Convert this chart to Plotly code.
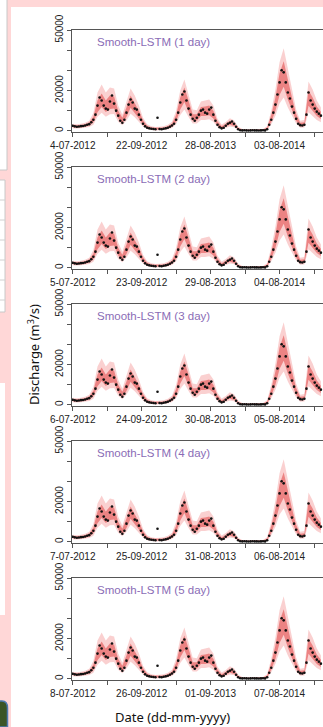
import plotly.graph_objects as go

# ---------------- data ----------------
obs_idx = list(range(0, 361, 3))
obs_val = [2500, 2200, 2000, 2100, 2300, 2400, 2600, 3000, 3300, 4200,
           5500, 8000, 12500, 16500, 15000, 12500, 11000, 10500, 14500, 17500,
           13500, 10000, 7500, 5000, 4000, 5500, 9000, 13000, 15500, 14000,
           11000, 10500, 8000, 5500, 3500, 2200, 1500, 1200, 1000, 900,
           800, 6500, 900, 800, 1000, 1200, 1500, 2000, 2600, 3500,
           5500, 9000, 14000, 18000, 19500, 15000, 11000, 8000, 6000, 5000,
           6500, 8000, 10000, 10500, 9000, 8500, 10500, 11500, 8000, 5000,
           3000, 1800, 1200, 1500, 2500, 3500, 4000, 4600, 3500, 2000,
           800, 300, 200, 250, 200, 150, 200, 250, 200, 200,
           150, 200, 250, 200, 800, 3000, 5500, 9000, 13000, 18000,
           24000, 30000, 29000, 24000, 19000, 16000, 12000, 9000, 6000, 3500,
           2800, 2600, 3000, 8000, 19000, 15000, 13000, 11000, 9500, 8500,
           7500]

band_idx = list(range(0, 361, 6))
hi50 = [2900, 2700, 2900, 3300, 4100, 7000, 15000, 18500, 15000, 17500,
        17000, 10000, 6500, 11500, 17500, 14000, 10000, 5200, 2500, 1600,
        1400, 1500, 1600, 2200, 3500, 7800, 16500, 21500, 15000, 8200,
        8200, 11800, 12000, 12500, 10000, 4600, 2300, 3400, 5000, 4100,
        1400, 600, 500, 500, 500, 500, 600, 1600, 7800, 16500,
        28500, 34500, 25000, 16500, 8300, 4000, 4200, 20000, 16500, 12000,
        9500]
lo50 = [1800, 1600, 1800, 2000, 2600, 4200, 9200, 11800, 9300, 10800,
        11000, 6100, 3800, 6900, 11400, 9000, 6100, 3000, 1300, 800,
        600, 700, 800, 1200, 2000, 4500, 10500, 14300, 9300, 5000,
        5000, 7300, 7300, 7700, 6100, 2600, 1100, 1900, 3000, 2400,
        600, 100, 0, 0, 0, 0, 100, 600, 4500, 9900,
        17800, 21800, 15500, 10000, 5000, 2200, 2400, 12400, 10000, 7300,
        5800]
hi95 = [3500, 3300, 3500, 4000, 5000, 8800, 19000, 23000, 19000, 21500,
        21000, 12500, 8000, 14000, 21000, 17500, 12500, 6500, 3200, 2200,
        1900, 2000, 2200, 3000, 4500, 10000, 20000, 25500, 18500, 10500,
        10200, 14500, 15000, 15500, 12500, 6000, 3100, 4300, 6200, 5200,
        2000, 900, 800, 800, 800, 800, 900, 2300, 10000, 20500,
        34000, 41000, 30500, 20500, 10500, 5000, 5300, 24500, 20500, 15000,
        11500]
lo95 = [1300, 1100, 1300, 1500, 1900, 3000, 7000, 9000, 7000, 8200,
        8300, 4500, 2800, 5100, 8500, 6700, 4500, 2100, 800, 400,
        200, 300, 400, 700, 1400, 3300, 7800, 10500, 6900, 3600,
        3600, 5400, 5400, 5700, 4500, 1800, 600, 1300, 2100, 1700,
        300, 0, 0, 0, 0, 0, 0, 300, 3300, 7400,
        13500, 16500, 11500, 7400, 3600, 1500, 1600, 9200, 7400, 5400,
        4200]

panel_titles = ["Smooth-LSTM (1 day)", "Smooth-LSTM (2 day)", "Smooth-LSTM (3 day)",
                "Smooth-LSTM (4 day)", "Smooth-LSTM (5 day)"]
x_major_vals = [0, 100, 200, 300]
x_minor_vals = [50, 150, 250, 350]
x_tick_labels = [
    ["4-07-2012", "22-09-2012", "28-08-2013", "03-08-2014"],
    ["5-07-2012", "23-09-2012", "29-08-2013", "04-08-2014"],
    ["6-07-2012", "24-09-2012", "30-08-2013", "05-08-2014"],
    ["7-07-2012", "25-09-2012", "31-08-2013", "06-08-2014"],
    ["8-07-2012", "26-09-2012", "01-09-2013", "07-08-2014"],
]
y_major_vals = [0, 20000, 50000]
y_major_text = ["0", "20000", "50000"]
y_minor_vals = [10000, 30000, 40000]

# ---------------- layout geometry ----------------
W, H = 323, 727
def py(p):
    return 1 - p / H

fig = go.Figure()
layout = dict(width=W, height=H, autosize=False,
              margin=dict(l=0, r=0, t=0, b=0, pad=0, autoexpand=False),
              paper_bgcolor="#FFD7D7", plot_bgcolor="white",
              showlegend=False, shapes=[], annotations=[])

axis_col = "#555555"
tick_font = dict(family="Liberation Sans, Arial, sans-serif", size=10, color="#222222")

for i in range(5):
    n = i + 1
    xa, ya = f"x{n}", f"y{n}"
    top = 30 + 137 * i
    bot = 132 + 137 * i
    fig.add_trace(go.Scatter(x=band_idx, y=lo95, mode="lines", line=dict(width=0),
                             xaxis=xa, yaxis=ya, hoverinfo="skip"))
    fig.add_trace(go.Scatter(x=band_idx, y=hi95, mode="lines", line=dict(width=0),
                             fill="tonexty", fillcolor="rgba(244,150,150,0.45)",
                             xaxis=xa, yaxis=ya, hoverinfo="skip"))
    fig.add_trace(go.Scatter(x=band_idx, y=lo50, mode="lines", line=dict(width=0),
                             xaxis=xa, yaxis=ya, hoverinfo="skip"))
    fig.add_trace(go.Scatter(x=band_idx, y=hi50, mode="lines", line=dict(width=0),
                             fill="tonexty", fillcolor="rgba(226,80,80,0.6)",
                             xaxis=xa, yaxis=ya, hoverinfo="skip"))
    fig.add_trace(go.Scatter(x=obs_idx, y=obs_val, mode="markers",
                             marker=dict(color="#111111", size=2.6),
                             xaxis=xa, yaxis=ya))
    layout[f"xaxis{n}"] = dict(domain=[72 / W, 1], anchor=ya, range=[-1, 363],
                               showline=True, linecolor=axis_col, linewidth=1, mirror=True,
                               ticks="outside", ticklen=4, tickcolor=axis_col,
                               tickmode="array", tickvals=x_major_vals, ticktext=x_tick_labels[i],
                               minor=dict(ticks="outside", ticklen=4, tickcolor=axis_col,
                                          tickmode="array", tickvals=x_minor_vals),
                               tickangle=0, automargin=False,
                               tickfont=tick_font, showgrid=False, zeroline=False)
    layout[f"yaxis{n}"] = dict(domain=[py(bot), py(top)], anchor=xa, range=[-600, 50000],
                               showline=True, linecolor=axis_col, linewidth=1,
                               ticks="outside", ticklen=4, tickcolor=axis_col,
                               tickmode="array", tickvals=y_major_vals, ticktext=y_major_text,
                               minor=dict(ticks="outside", ticklen=4, tickcolor=axis_col,
                                          tickmode="array", tickvals=y_minor_vals),
                               tickangle=-90, automargin=False,
                               tickfont=tick_font, showgrid=False, zeroline=False)
    layout["annotations"].append(dict(
        text=panel_titles[i], xref="paper", yref="paper", x=95 / W, y=py(top + 12),
        xanchor="left", yanchor="middle", showarrow=False,
        font=dict(family="Liberation Sans, Arial, sans-serif", size=11.5, color="#8A6CB6")))

# axis titles
layout["annotations"].append(dict(
    text="Discharge (m<sup>3</sup>/s)", xref="paper", yref="paper", x=33 / W, y=py(355),
    xanchor="center", yanchor="middle", textangle=-90, showarrow=False,
    font=dict(family="Noto Sans, sans-serif", size=13, color="#111111")))
layout["annotations"].append(dict(
    text="Date (dd-mm-yyyy)", xref="paper", yref="paper", x=172 / W, y=py(717),
    xanchor="center", yanchor="middle", showarrow=False,
    font=dict(family="Noto Sans, sans-serif", size=13, color="#111111")))

# slide background pieces
shapes = layout["shapes"]
shapes.append(dict(type="rect", xref="paper", yref="paper", layer="below",
                   x0=11 / W, x1=1, y0=0, y1=py(7), fillcolor="white", line=dict(width=0)))
shapes.append(dict(type="rect", xref="paper", yref="paper", layer="below",
                   x0=-0.01, x1=7 / W, y0=py(170), y1=1.01, fillcolor="white",
                   line=dict(color="#C8C8C8", width=1)))
shapes.append(dict(type="rect", xref="paper", yref="paper", layer="below",
                   x0=-0.01, x1=5 / W, y0=py(312), y1=py(180), fillcolor="white",
                   line=dict(color="#C8C8C8", width=1)))
for yy in [200, 220, 240, 260, 280, 300]:
    shapes.append(dict(type="line", xref="paper", yref="paper", layer="below",
                       x0=0, x1=5 / W, y0=py(yy), y1=py(yy),
                       line=dict(color="#D0D0D0", width=1)))
shapes.append(dict(type="rect", xref="paper", yref="paper", layer="below",
                   x0=-0.01, x1=5 / W, y0=py(615), y1=py(383), fillcolor="white",
                   line=dict(width=0)))
shapes.append(dict(type="path", xref="paper", yref="paper", layer="below",
                   path=f"M -0.01 0 L {7.5/W} 0 L {7.5/W} {py(708)} Q {7.5/W} {py(701)} {2/W} {py(701)} L -0.01 {py(701)} Z",
                   fillcolor="#3B5526", line=dict(color="#4E7AB0", width=1.5)))

fig.update_layout(**layout)
fig.write_html("out.html")
